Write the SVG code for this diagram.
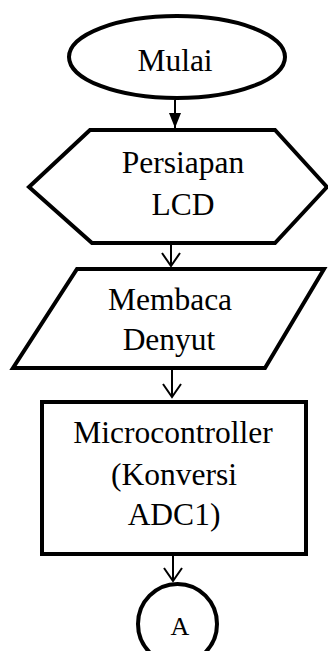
<svg xmlns="http://www.w3.org/2000/svg" width="328" height="651" viewBox="0 0 328 651">
<defs>
<style>
.shape{fill:#fff;stroke:#000;stroke-width:4;stroke-linejoin:miter}
.t{font-family:"Liberation Serif","Times New Roman",serif;font-size:31.5px;fill:#000;text-anchor:middle}
.ts{font-family:"Liberation Serif","Times New Roman",serif;font-size:26px;fill:#000;text-anchor:middle}
.edge{stroke:#000;stroke-width:2;fill:none}
</style>
<marker id="filled" markerWidth="16" markerHeight="12" refX="15" refY="6" orient="auto" markerUnits="userSpaceOnUse">
<path d="M0,0 L15,6 L0,12 Z" fill="#000"/>
</marker>
<marker id="open" markerWidth="16" markerHeight="22" refX="14" refY="10" orient="auto" markerUnits="userSpaceOnUse">
<path d="M1,1 L14,10 L1,19" fill="none" stroke="#000" stroke-width="2"/>
</marker>
</defs>
<rect width="328" height="651" fill="#fff"/>
<g id="edges">
<line class="edge" x1="175" y1="100" x2="175" y2="128" marker-end="url(#filled)"/>
<line class="edge" x1="171" y1="243" x2="171" y2="266" marker-end="url(#open)"/>
<line class="edge" x1="172" y1="369" x2="172" y2="397" marker-end="url(#open)"/>
<line class="edge" x1="173" y1="556" x2="173" y2="581" marker-end="url(#open)"/>
</g>
<g id="start">
<ellipse class="shape" cx="177" cy="57" rx="108" ry="41"/>
<text class="t" x="175" y="71">Mulai</text>
</g>
<g id="prep">
<polygon class="shape" points="90,130 275,130 327,187 275,243 92,243 29,187"/>
<text class="t" x="183" y="173">Persiapan</text>
<text class="t" x="183" y="215">LCD</text>
</g>
<g id="input">
<polygon class="shape" points="77,269 324,269 265,368 13,368"/>
<text class="t" x="170" y="310">Membaca</text>
<text class="t" x="169" y="350">Denyut</text>
</g>
<g id="process">
<rect class="shape" x="42" y="402" width="264" height="152"/>
<text class="t" x="173" y="443">Microcontroller</text>
<text class="t" x="174" y="485">(Konversi</text>
<text class="t" x="174" y="525">ADC1)</text>
</g>
<g id="connector">
<ellipse class="shape" cx="177.5" cy="624" rx="39.5" ry="40"/>
<text class="ts" x="180" y="635">A</text>
</g>
</svg>
